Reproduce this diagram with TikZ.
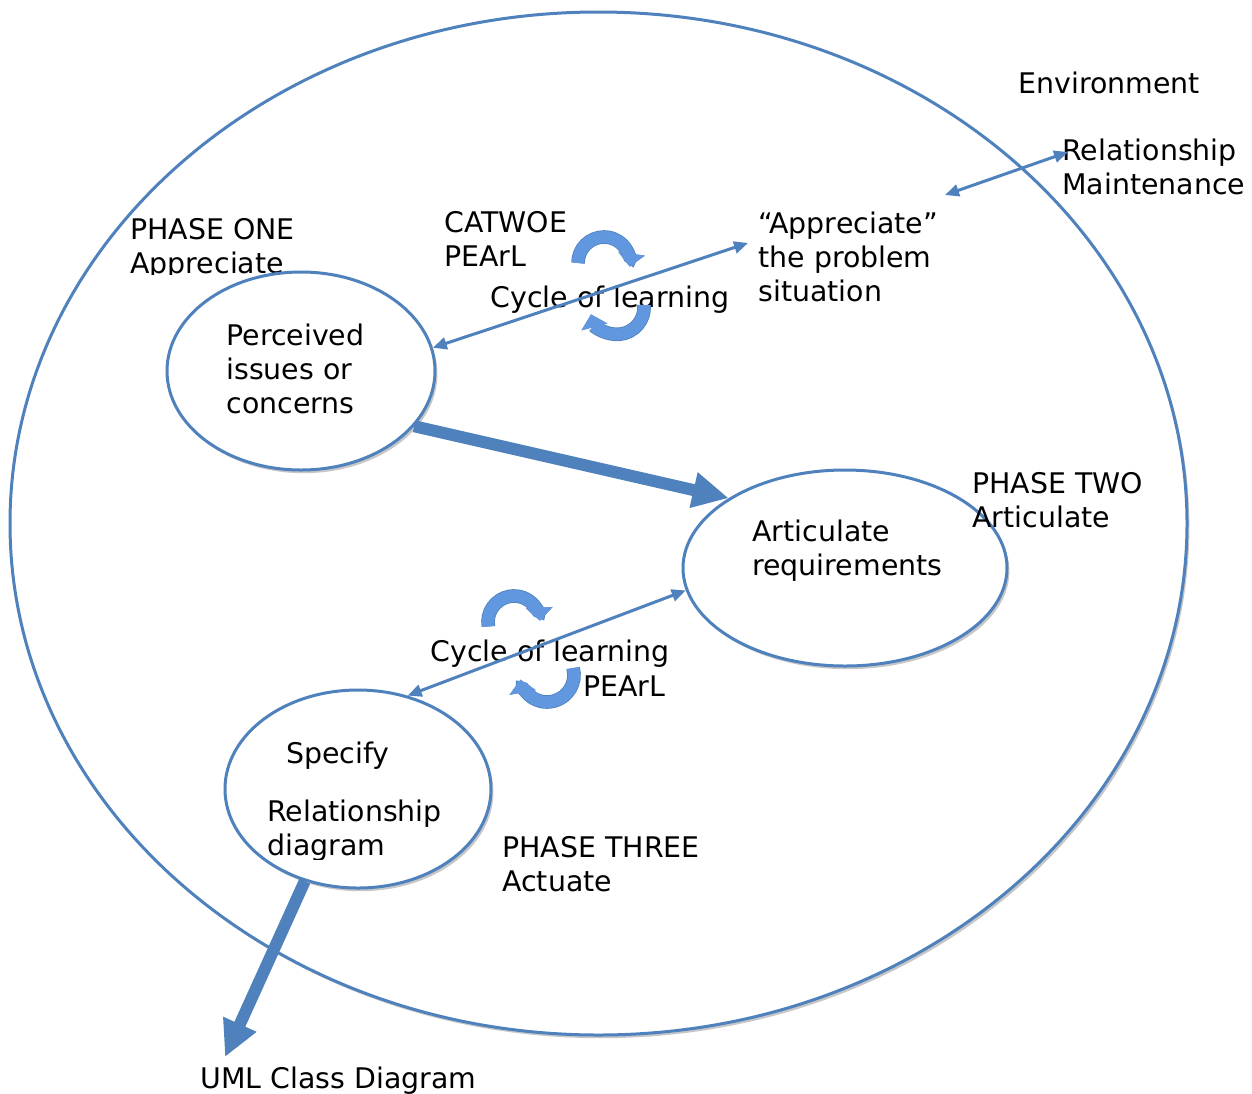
\documentclass[tikz,border=0pt]{standalone}
\usepackage{fontspec}
\setmainfont{DejaVu Sans}
\usetikzlibrary{shapes.geometric,arrows.meta,shadows}
\definecolor{ublue}{HTML}{4F81BD}
\definecolor{cblue}{HTML}{6197DE}
\begin{document}
\begin{tikzpicture}[x=0.5pt,y=-0.5pt,
  txt/.style={font=\fontsize{14.2}{17}\selectfont, align=left, inner sep=0pt, anchor=west, yshift=-1.3pt},
  ell/.style={ellipse, draw=ublue, line width=1.5pt, fill=white, inner sep=0pt,
    drop shadow={shadow xshift=1.2pt, shadow yshift=-1.6pt, fill=black!22, opacity=1}},
  dbl/.style={draw=ublue, line width=1.5pt, {Triangle[width=6pt,length=7pt]}-{Triangle[width=6pt,length=7pt]}},
  bigarrow/.style={draw=ublue, line width=6pt, -{Triangle[width=17pt,length=18pt]}},
  curv/.style={draw=cblue, line width=6pt, preaction={draw=ublue, line width=6.8pt},
    -{Triangle[width=13pt,length=6.5pt]}}
]
\useasboundingbox (0,0) rectangle (1252,1093);

% outer environment ellipse
\node[ell, minimum width=588.5pt, minimum height=511.5pt] (env) at (598.5,523.5) {};

% labels around phase one (clipped by its text box, as in the original)
\begin{scope}
  \clip (100,200) rectangle (340,274);
  \node[txt] (ph1) at (130,246) {PHASE ONE\\Appreciate};
\end{scope}

% inner ellipses
\node[ell, minimum width=134pt, minimum height=99pt] (p) at (301,371) {};
\node[ell, minimum width=162pt, minimum height=98pt] (a) at (845,568) {};
\node[ell, minimum width=133pt, minimum height=99pt] (s) at (358,789) {};

% texts
\node[txt] (envt) at (1018,80) {Environment};
\node[txt] (rm) at (1062,164) {Relationship\\Maintenance};
\node[txt] (apt) at (758,254) {“Appreciate”\\the problem\\situation};
\node[txt] (cat) at (444,236.5) {CATWOE\\PEArL};
\node[txt, anchor=center] (cyc1) at (610,297) {Cycle of learning};
\node[txt] (pt) at (226,366) {Perceived\\issues or\\concerns};
\node[txt] (ph2) at (972,498) {PHASE TWO\\Articulate};
\node[txt] (at) at (752,548) {Articulate\\requirements};
\node[txt, anchor=center] (cyc2) at (550,651) {Cycle of learning};
\node[txt] (pearl2) at (583,684) {PEArL};
\node[txt] (sp) at (286,753) {Specify};
\begin{scope}
  \clip (250,780) rectangle (470,859);
  \node[txt] (rd) at (267,828) {Relationship\\diagram};
\end{scope}
\node[txt] (ph3) at (502,861.5) {PHASE THREE\\Actuate};
\node[txt] (uml) at (200,1078) {UML Class Diagram};

% free ends of connectors
\coordinate (apL) at (748,243);
\coordinate (apR) at (945,195);
\coordinate (rmL) at (1068,152);
\coordinate (umlT) at (225,1057);

% thin double arrows
\draw[dbl] (p.10) -- (apL);
\draw[dbl] (apR) -- (rmL);
\draw[dbl] (s.62) -- (a.188);

% thick arrows
\draw[bigarrow] (p.-26) -- (a.149);
\draw[bigarrow] (s.240) -- (umlT);

% curved cycle arrows
\draw[curv] (578,263) arc[start angle=180, end angle=368, radius=26];
\draw[curv] (644,305) arc[start angle=-5, end angle=165, radius=27];
\draw[curv] (488.4,626.5) arc[start angle=170, end angle=357, radius=26];
\draw[curv] (573.1,668) arc[start angle=-15, end angle=170, radius=27];
\end{tikzpicture}
\end{document}
